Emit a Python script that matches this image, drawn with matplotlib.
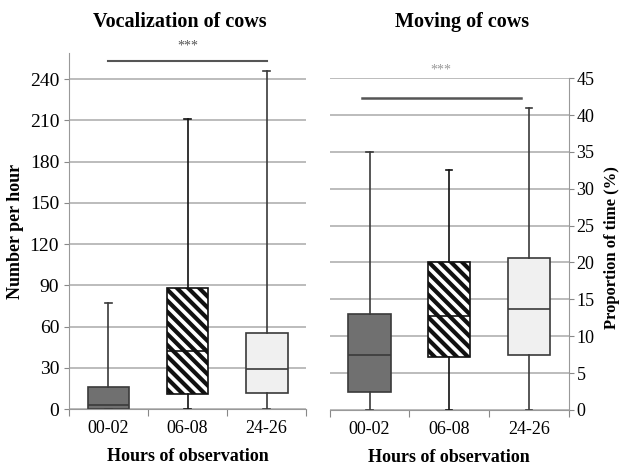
import matplotlib.pyplot as plt

plt.rcParams['font.family'] = ['Liberation Serif', 'DejaVu Serif']
plt.rcParams['hatch.linewidth'] = 3.0

categories = ['00-02', '06-08', '24-26']
fills = ['#707070', 'white', '#f0f0f0']
hatches = ['', '\\\\\\', '']
edges = ['#3a3a3a', '#111111', '#3a3a3a']

# vocalization, number per hour: whislo, q1, med, q3, whishi
voc_lo = [0, 0, 0]
voc_q1 = [0, 11, 12]
voc_med = [3, 42, 29]
voc_q3 = [16, 88, 55]
voc_hi = [77, 211, 246]

# moving, proportion of time (%)
mov_lo = [0, 0, 0]
mov_q1 = [2.5, 7.2, 7.5]
mov_med = [7.5, 12.7, 13.7]
mov_q3 = [13, 20, 20.6]
mov_hi = [35, 32.5, 41]


def stats(lo, q1, med, q3, hi):
    return [dict(whislo=a, q1=b, med=c, q3=d, whishi=e, fliers=[], label=n)
            for a, b, c, d, e, n in zip(lo, q1, med, q3, hi, categories)]


def draw(ax, st):
    bp = ax.bxp(st, positions=[0, 1, 2], widths=0.53, patch_artist=True,
                showfliers=False,
                boxprops=dict(linewidth=1.2),
                medianprops=dict(linewidth=1.2),
                whiskerprops=dict(linewidth=1.2),
                capprops=dict(linewidth=1.2),
                capwidths=0.08)
    for i, (patch, f, h) in enumerate(zip(bp['boxes'], fills, hatches)):
        patch.set_facecolor(f)
        patch.set_hatch(h)
        patch.set_edgecolor(edges[i])
        bp['medians'][i].set_color(edges[i])
        for k in (2 * i, 2 * i + 1):
            bp['whiskers'][k].set_color(edges[i])
            bp['caps'][k].set_color(edges[i])
    ax.set_xlim(-0.5, 2.5)
    ax.set_xticks([-0.5, 0.5, 1.5, 2.5], minor=False)
    ax.set_xticklabels([])
    ax.set_xticks([0, 1, 2], minor=True)
    ax.set_xticklabels(categories, minor=True, fontsize=13)
    ax.tick_params(axis='x', which='minor', length=0, pad=8)
    ax.tick_params(axis='x', which='major', length=5, color='#888888')
    ax.yaxis.grid(True, color='#b0b0b0', linewidth=1.2)
    ax.set_axisbelow(True)
    ax.set_xlabel('Hours of observation', fontsize=13, fontweight='bold', labelpad=8)
    ax.tick_params(axis='y', labelsize=14, color='#888888')
    for s in ax.spines.values():
        s.set_color('#999999')
    ax.spines['top'].set_visible(False)


fig = plt.figure(figsize=(6.21, 4.68), dpi=100)

ax1 = fig.add_axes([0.111, 0.126, 0.382, 0.761])
draw(ax1, stats(voc_lo, voc_q1, voc_med, voc_q3, voc_hi))
ax1.spines['right'].set_visible(False)
ax1.set_ylim(0, 259)
ax1.set_yticks(range(0, 241, 30))
ax1.set_ylabel('Number per hour', fontsize=13, fontweight='bold', labelpad=4)
ax1.plot([0, 2], [253, 253], color='#555555', linewidth=1.5, clip_on=False)
ax1.text(1, 259, '***', ha='center', va='bottom', fontsize=10, color='#555555')
fig.text(0.29, 0.953, 'Vocalization of cows', ha='center', va='center',
         fontsize=14.5, fontweight='bold')

ax2 = fig.add_axes([0.531, 0.124, 0.385, 0.709])
draw(ax2, stats(mov_lo, mov_q1, mov_med, mov_q3, mov_hi))
ax2.spines['left'].set_visible(False)
ax2.set_ylim(0, 45)
ax2.set_yticks(range(0, 46, 5))
ax2.yaxis.tick_right()
ax2.tick_params(axis='y', which='both', left=False, right=True, pad=2,
                labelsize=13)
ax2.plot([-0.1, 1.9], [42.3, 42.3], color='#555555', linewidth=1.8, clip_on=False)
ax2.text(0.9, 45.2, '***', ha='center', va='bottom', fontsize=10, color='#999999')
fig.text(0.998, 0.47, 'Proportion of time (%)', rotation=90, ha='right', va='center',
         fontsize=12, fontweight='bold')
fig.text(0.744, 0.953, 'Moving of cows', ha='center', va='center',
         fontsize=14.5, fontweight='bold')

fig.savefig('out.png', dpi=100)
